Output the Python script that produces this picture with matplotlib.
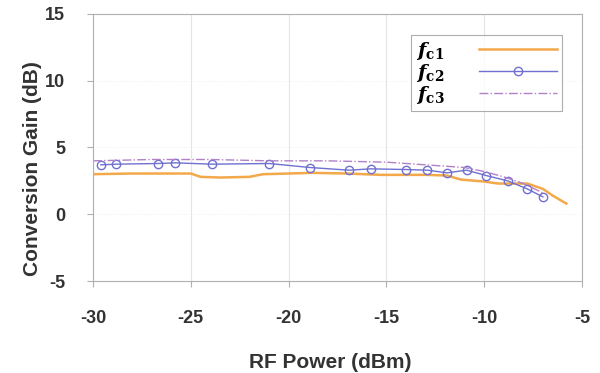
import numpy as np
import matplotlib.pyplot as plt

# Data
x1 = [-30, -28, -26, -25, -24.5, -23.5, -22, -21.3, -20, -18.8, -17, -15.3, -13, -11.9, -11.2, -10, -9.3, -7.8, -7, -6.5, -5.8]
y1 = [3.0, 3.05, 3.05, 3.05, 2.8, 2.75, 2.8, 3.0, 3.05, 3.1, 3.05, 2.95, 2.95, 2.9, 2.6, 2.45, 2.3, 2.3, 1.9, 1.4, 0.8]

x2 = [-29.6, -28.8, -26.7, -25.8, -23.9, -21.0, -18.9, -16.9, -15.8, -14.0, -12.9, -11.9, -10.9, -9.9, -8.8, -7.8, -7.0]
y2 = [3.7, 3.75, 3.8, 3.85, 3.75, 3.8, 3.5, 3.3, 3.4, 3.35, 3.3, 3.1, 3.3, 2.9, 2.5, 1.9, 1.3]

x3 = [-30, -27, -24, -21, -18, -15, -13, -11, -10, -9, -8, -7]
y3 = [4.0, 4.1, 4.1, 4.0, 4.0, 3.9, 3.7, 3.5, 3.2, 2.8, 2.3, 1.6]

labels = [r'$\boldsymbol{f}_{\mathbf{c1}}$', r'$\boldsymbol{f}_{\mathbf{c2}}$', r'$\boldsymbol{f}_{\mathbf{c3}}$']

plt.rcParams['font.family'] = ['Liberation Sans', 'DejaVu Sans']
plt.rcParams['mathtext.fontset'] = 'dejavuserif'
plt.rcParams['axes.unicode_minus'] = False

fig = plt.figure(figsize=(6, 3.73), dpi=100)
ax = fig.add_axes([0.155, 0.2466, 0.815, 0.716])

ax.plot(x1, y1, color='#f3a84a', lw=1.8, label=labels[0])
ax.plot(x2, y2, color='#7070d0', lw=1.0, marker='o', ms=6, mfc='none',
        mec='#7070d0', mew=1.0, label=labels[1])
ax.plot(x3, y3, color='#b080c8', lw=1.0, ls='-.', label=labels[2])

ax.set_xlim(-30, -5)
ax.set_ylim(-5, 15)
ax.set_xticks(np.arange(-30, -4, 5))
ax.set_yticks(np.arange(-5, 16, 5))
ax.grid(axis='x', color='#e4e4e4', lw=0.8)
ax.grid(axis='y', color='#eeeeee', lw=0.6, ls=':')

for s in ax.spines.values():
    s.set_color('#b0b0b0')
ax.tick_params(colors='#b0b0b0', labelcolor='#333333', labelsize=13, length=4)
for lab in ax.get_xticklabels() + ax.get_yticklabels():
    lab.set_fontweight('bold')
ax.tick_params(axis='x', pad=17)
ax.tick_params(axis='y', pad=16)

ax.set_xlabel('RF Power (dBm)', fontsize=15, fontweight='bold', color='#333333')
ax.set_ylabel('Conversion Gain (dB)', fontsize=15, fontweight='bold', color='#333333')
ax.xaxis.set_label_coords(0.485, -0.27)
ax.yaxis.set_label_coords(-0.105, 0.42)

leg = ax.legend(loc='upper right', bbox_to_anchor=(0.959, 0.921), borderaxespad=0,
                markerfirst=False, fontsize=14, handlelength=4.0, handletextpad=1.8,
                frameon=True, fancybox=False, edgecolor='#999999',
                labelspacing=0.0, borderpad=0.25)
leg.get_frame().set_linewidth(0.8)

fig.savefig('out.png', dpi=100)
